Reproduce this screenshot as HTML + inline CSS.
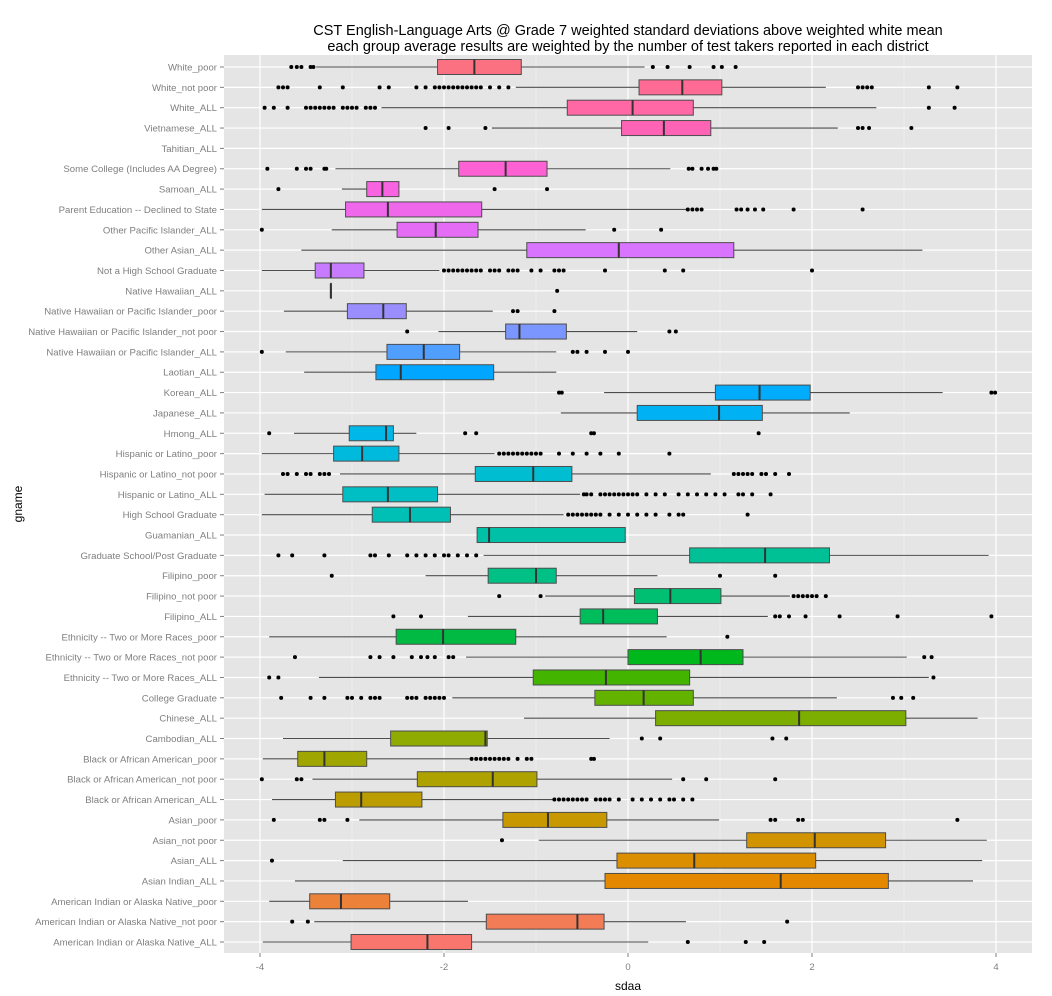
<!DOCTYPE html>
<html><head><meta charset="utf-8"><style>
html,body{margin:0;padding:0;background:#fff;}
svg{display:block;font-family:"Liberation Sans",Arial,sans-serif;}
</style></head><body>
<svg id="chart" width="1052" height="996" viewBox="0 0 1052 996" xmlns="http://www.w3.org/2000/svg">
<rect x="0" y="0" width="1052" height="996" fill="#fff"/>
<text x="628" y="35" text-anchor="middle" font-size="14.5" fill="#000">CST English-Language Arts @ Grade 7 weighted standard deviations above weighted white mean</text>
<text x="628" y="51" text-anchor="middle" font-size="14.5" fill="#000">each group average results are weighted by the number of test takers reported in each district</text>
<rect x="224" y="55" width="808" height="898" fill="#E5E5E5"/>
<g id="grid"></g>
<g id="marks"></g>
<g id="axes"></g>
<text x="628" y="990" text-anchor="middle" font-size="12" fill="#000">sdaa</text>
<text x="0" y="0" transform="translate(22,504) rotate(-90)" text-anchor="middle" font-size="12" fill="#000">gname</text>
</svg>
<script>
// categories listed from top to bottom
const categories = ["White_poor","White_not poor","White_ALL","Vietnamese_ALL","Tahitian_ALL","Some College (Includes AA Degree)","Samoan_ALL","Parent Education -- Declined to State","Other Pacific Islander_ALL","Other Asian_ALL","Not a High School Graduate","Native Hawaiian_ALL","Native Hawaiian or Pacific Islander_poor","Native Hawaiian or Pacific Islander_not poor","Native Hawaiian or Pacific Islander_ALL","Laotian_ALL","Korean_ALL","Japanese_ALL","Hmong_ALL","Hispanic or Latino_poor","Hispanic or Latino_not poor","Hispanic or Latino_ALL","High School Graduate","Guamanian_ALL","Graduate School/Post Graduate","Filipino_poor","Filipino_not poor","Filipino_ALL","Ethnicity -- Two or More Races_poor","Ethnicity -- Two or More Races_not poor","Ethnicity -- Two or More Races_ALL","College Graduate","Chinese_ALL","Cambodian_ALL","Black or African American_poor","Black or African American_not poor","Black or African American_ALL","Asian_poor","Asian_not poor","Asian_ALL","Asian Indian_ALL","American Indian or Alaska Native_poor","American Indian or Alaska Native_not poor","American Indian or Alaska Native_ALL"];
const lowWhisker = [-3.39,-1.22,-2.68,-1.48,null,-3.18,-3.11,-3.98,-3.22,-3.55,-3.98,-3.23,-3.74,-2.06,-3.72,-3.52,-0.26,-0.73,-3.63,-3.98,-3.13,-3.95,-3.98,-1.64,-1.57,-2.2,-0.9,-1.74,-3.9,-1.76,-3.36,-1.91,-1.13,-3.75,-3.97,-3.43,-3.87,-2.92,-0.97,-3.1,-3.62,-3.9,-3.41,-3.97];
const q1 = [-2.07,0.12,-0.66,-0.07,null,-1.84,-2.84,-3.07,-2.51,-1.1,-3.4,-3.23,-3.05,-1.33,-2.62,-2.74,0.95,0.1,-3.03,-3.2,-1.66,-3.1,-2.78,-1.64,0.67,-1.52,0.07,-0.52,-2.52,0.0,-1.03,-0.36,0.3,-2.58,-3.59,-2.29,-3.18,-1.36,1.29,-0.12,-0.25,-3.46,-1.54,-3.01];
const median = [-1.67,0.59,0.05,0.39,null,-1.33,-2.67,-2.61,-2.09,-0.1,-3.23,-3.23,-2.66,-1.18,-2.22,-2.47,1.43,0.99,-2.63,-2.89,-1.03,-2.61,-2.37,-1.51,1.49,-1.0,0.46,-0.27,-2.01,0.79,-0.24,0.17,1.86,-1.55,-3.3,-1.47,-2.9,-0.87,2.03,0.72,1.66,-3.12,-0.55,-2.18];
const q3 = [-1.16,1.02,0.71,0.9,null,-0.88,-2.49,-1.59,-1.63,1.15,-2.87,-3.23,-2.41,-0.67,-1.83,-1.46,1.98,1.46,-2.55,-2.49,-0.61,-2.07,-1.93,-0.03,2.19,-0.78,1.01,0.32,-1.22,1.25,0.67,0.71,3.02,-1.53,-2.84,-0.99,-2.24,-0.23,2.8,2.04,2.83,-2.59,-0.26,-1.7];
const highWhisker = [0.18,2.15,2.7,2.28,null,0.46,-2.49,0.64,-0.46,3.2,-2.05,-3.23,-1.47,0.1,-0.78,-0.78,3.42,2.41,-2.3,-1.45,0.9,-0.52,-0.7,-0.03,3.92,0.32,1.76,1.52,0.42,3.03,3.27,2.27,3.8,-0.2,-1.72,0.48,-0.82,0.99,3.9,3.85,3.75,-1.74,0.63,0.22];
const outliers = [
[-3.66,-3.6,-3.55,-3.45,-3.42,0.27,0.43,0.67,0.93,1.02,1.17],
[-3.8,-3.75,-3.7,-3.35,-3.1,-2.7,-2.6,-2.3,-2.2,-2.1,-2.05,-2.0,-1.95,-1.9,-1.85,-1.8,-1.75,-1.7,-1.65,-1.6,-1.5,-1.4,-1.3,2.5,2.55,2.6,2.65,3.27,3.58],
[-3.95,-3.85,-3.7,-3.5,-3.45,-3.4,-3.35,-3.3,-3.25,-3.2,-3.1,-3.05,-3.0,-2.95,-2.85,-2.8,-2.75,3.27,3.55],
[-2.2,-1.95,-1.55,2.5,2.55,2.62,3.08],
[],
[-3.92,-3.6,-3.5,-3.45,-3.3,-3.28,0.66,0.7,0.8,0.87,0.93,0.96],
[-3.8,-1.45,-0.88],
[0.65,0.7,0.75,0.8,1.18,1.23,1.3,1.38,1.47,1.8,2.55],
[-3.98,-0.15,0.36],
[],
[-2.0,-1.95,-1.9,-1.85,-1.8,-1.75,-1.7,-1.65,-1.6,-1.5,-1.45,-1.4,-1.3,-1.25,-1.2,-1.05,-0.95,-0.8,-0.75,-0.7,-0.25,0.4,0.6,2.0],
[-0.77],
[-1.25,-1.2,-0.8],
[-2.4,0.45,0.52],
[-3.98,-0.6,-0.55,-0.45,-0.25,0.0],
[],
[-0.75,-0.72,3.95,3.99],
[],
[-3.9,-1.77,-1.65,-0.4,-0.37,1.42],
[-1.4,-1.35,-1.3,-1.25,-1.2,-1.15,-1.1,-1.05,-1.0,-0.95,-0.75,-0.6,-0.45,-0.3,-0.1,0.45],
[-3.75,-3.7,-3.6,-3.5,-3.45,-3.35,-3.3,-3.25,1.15,1.2,1.25,1.3,1.35,1.45,1.5,1.6,1.75],
[-0.48,-0.45,-0.4,-0.3,-0.25,-0.2,-0.15,-0.1,-0.05,0.0,0.05,0.1,0.2,0.3,0.4,0.55,0.65,0.75,0.85,0.95,1.05,1.2,1.25,1.35,1.55],
[-0.65,-0.6,-0.55,-0.5,-0.45,-0.4,-0.35,-0.3,-0.2,-0.1,0.0,0.1,0.2,0.3,0.45,0.55,0.6,1.3],
[],
[-3.8,-3.65,-3.3,-2.8,-2.75,-2.6,-2.4,-2.3,-2.2,-2.1,-2.0,-1.95,-1.85,-1.75,-1.65],
[-3.22,1.0,1.6],
[-1.4,-0.95,1.8,1.85,1.9,1.95,2.0,2.05,2.15],
[-2.55,-2.25,1.6,1.65,1.75,1.93,2.3,2.93,3.95],
[1.08],
[-3.62,-2.8,-2.7,-2.55,-2.35,-2.25,-2.18,-2.1,-1.95,-1.9,3.22,3.3],
[-3.9,-3.8,3.32],
[-3.77,-3.45,-3.3,-3.05,-3.0,-2.9,-2.8,-2.75,-2.7,-2.4,-2.35,-2.3,-2.2,-2.15,-2.1,-2.05,-2.0,2.88,2.97,3.1],
[],
[0.15,0.35,1.57,1.72],
[-1.7,-1.65,-1.6,-1.55,-1.5,-1.45,-1.4,-1.35,-1.3,-1.2,-1.1,-1.05,-0.4,-0.37],
[-3.98,-3.6,-3.55,0.6,0.85,1.6],
[-0.8,-0.75,-0.7,-0.65,-0.6,-0.55,-0.5,-0.45,-0.35,-0.3,-0.25,-0.2,-0.1,0.05,0.15,0.25,0.35,0.45,0.5,0.6,0.7],
[-3.85,-3.35,-3.3,-3.05,1.55,1.6,1.85,1.9,3.58],
[-1.37],
[-3.87],
[],
[],
[-3.65,-3.48,1.73],
[0.65,1.28,1.48]
];
const xTicks = [-4,-2,0,2,4];
const xMinor = [-3,-1,1,3];

const NS = "http://www.w3.org/2000/svg";
const X0 = 628, XS = 92;
function xScale(v){ return X0 + v*XS; }
const Y_TOP = 67, Y_BOT = 942;
function yScale(i){ return Y_TOP + i*(Y_BOT-Y_TOP)/(categories.length-1); }
function mk(tag, attrs, parent){ const e=document.createElementNS(NS,tag); for(const k in attrs) e.setAttribute(k,attrs[k]); parent.appendChild(e); return e; }

function hcl(h){
  const L=65, C=100;
  const Xn=95.047,Yn=100,Zn=108.883;
  const un=4*Xn/(Xn+15*Yn+3*Zn), vn=9*Yn/(Xn+15*Yn+3*Zn);
  const Y=Yn*Math.pow((L+16)/116,3);
  const u=C*Math.cos(h*Math.PI/180), v=C*Math.sin(h*Math.PI/180);
  const up=u/(13*L)+un, vp=v/(13*L)+vn;
  const X=9*Y*up/(4*vp), Z=-X/3-5*Y+3*Y/vp;
  const x=X/100,y=Y/100,z=Z/100;
  let r=3.2404542*x-1.5371385*y-0.4985314*z;
  let g=-0.9692660*x+1.8760108*y+0.0415560*z;
  let b=0.0556434*x-0.2040259*y+1.0572252*z;
  const gm=c=>{c=Math.max(0,Math.min(1,c)); return Math.round(255*(c<=0.0031308?12.92*c:1.055*Math.pow(c,1/2.4)-0.055));};
  return `rgb(${gm(r)},${gm(g)},${gm(b)})`;
}

const grid=document.getElementById('grid');
xMinor.forEach(t=>{
  const l=mk('line',{x1:xScale(t),x2:xScale(t),y1:55,y2:953,stroke:'#F2F2F2','stroke-width':0.6},grid);
  
  
});
xTicks.forEach(t=>{
  const l=mk('line',{x1:xScale(t),x2:xScale(t),y1:55,y2:953,stroke:'#fff','stroke-width':1.2},grid);
  
  
});
categories.forEach((c,i)=>{
  const l=mk('line',{x1:224,x2:1032,y1:yScale(i),y2:yScale(i),stroke:'#fff','stroke-width':1.2},grid);
  
  
});

const marks=document.getElementById('marks');
const n=categories.length;
categories.forEach((c,i)=>{
  const y=yScale(i);
  const level=n-1-i; // bottom = first level
  const col=hcl(15+360*level/n);
  const g=mk('g',{},marks);
  
  
  if(median[i]!==null){
    const w1=mk('line',{x1:xScale(lowWhisker[i]),x2:xScale(q1[i]),y1:y,y2:y,stroke:'#4d4d4d','stroke-width':1.1},g);
    
    
    const w2=mk('line',{x1:xScale(q3[i]),x2:xScale(highWhisker[i]),y1:y,y2:y,stroke:'#4d4d4d','stroke-width':1.1},g);
    
    
    const b=mk('rect',{x:xScale(q1[i]),y:y-7.5,width:Math.max(0.5,xScale(q3[i])-xScale(q1[i])),height:15,fill:col,stroke:'#4d4d4d','stroke-width':1},g);
    
    
    const m=mk('line',{x1:xScale(median[i]),x2:xScale(median[i]),y1:y-7.5,y2:y+7.5,stroke:'#333','stroke-width':2},g);
    
    
  }
  outliers[i].forEach(v=>{
    const p=mk('circle',{cx:xScale(v),cy:y,r:2,fill:'#000'},g);
    
    
  });
});

const axes=document.getElementById('axes');
categories.forEach((c,i)=>{
  const y=yScale(i);
  const tk=mk('line',{x1:220,x2:224,y1:y,y2:y,stroke:'#7f7f7f','stroke-width':1},axes);
  
  
  const t=mk('text',{x:217,y:y+3.5,'text-anchor':'end','font-size':9.6,fill:'#7f7f7f'},axes);
  t.textContent=c;
  
  
});
xTicks.forEach(v=>{
  const tk=mk('line',{x1:xScale(v),x2:xScale(v),y1:953,y2:957,stroke:'#7f7f7f','stroke-width':1},axes);
  
  
  const t=mk('text',{x:xScale(v),y:970,'text-anchor':'middle','font-size':9.6,fill:'#7f7f7f'},axes);
  t.textContent=String(v);
  
  
});
</script>
</body></html>
